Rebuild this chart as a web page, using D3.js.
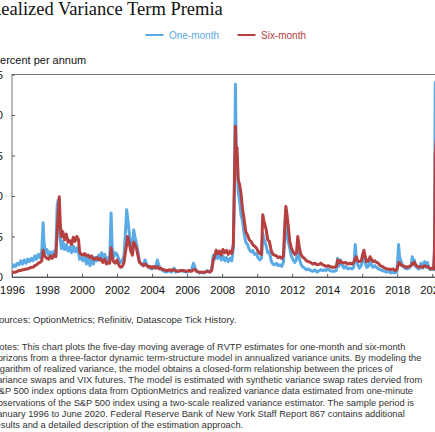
<!DOCTYPE html>
<html>
<head>
<meta charset="utf-8">
<script src="https://cdn.jsdelivr.net/npm/d3@7"></script>
<style>
  html, body { margin: 0; padding: 0; background: #fff; overflow: hidden; }
  svg { display: block; }
</style>
</head>
<body>
<svg id="chart" width="435" height="432"></svg>
<script>
// decimal years
var dates = [
  1996.00, 1996.10, 1996.20, 1996.30, 1996.40, 1996.50, 1996.60, 1996.70, 1996.80, 1996.90,
  1997.00, 1997.10, 1997.20, 1997.30, 1997.40, 1997.50, 1997.60, 1997.70, 1997.78, 1997.82, 1997.90,
  1998.00, 1998.10, 1998.20, 1998.30, 1998.40, 1998.50, 1998.58, 1998.64, 1998.70, 1998.76, 1998.82, 1998.90,
  1999.00, 1999.10, 1999.20, 1999.30, 1999.40, 1999.50, 1999.60, 1999.70, 1999.80, 1999.86, 1999.95,
  2000.05, 2000.15, 2000.25, 2000.35, 2000.45, 2000.55, 2000.65, 2000.75, 2000.85, 2000.95,
  2001.05, 2001.12, 2001.20, 2001.30, 2001.40, 2001.50, 2001.58, 2001.66, 2001.72, 2001.80, 2001.90,
  2002.00, 2002.10, 2002.20, 2002.30, 2002.40, 2002.47, 2002.55, 2002.60, 2002.68, 2002.78, 2002.88, 2002.95,
  2003.02, 2003.10, 2003.20, 2003.28, 2003.40, 2003.50, 2003.60, 2003.70, 2003.80, 2003.90,
  2004.00, 2004.10, 2004.20, 2004.30, 2004.40, 2004.50, 2004.60, 2004.70, 2004.80, 2004.90,
  2005.00, 2005.10, 2005.25, 2005.35, 2005.50, 2005.65, 2005.80, 2005.95,
  2006.10, 2006.25, 2006.36, 2006.45, 2006.55, 2006.70, 2006.85,
  2007.00, 2007.15, 2007.30, 2007.40, 2007.50, 2007.58, 2007.66, 2007.75, 2007.85, 2007.95,
  2008.05, 2008.15, 2008.25, 2008.35, 2008.45, 2008.55, 2008.64, 2008.70, 2008.76, 2008.81, 2008.85, 2008.92,
  2009.00, 2009.08, 2009.16, 2009.25, 2009.35, 2009.45, 2009.55, 2009.65, 2009.75, 2009.85, 2009.95,
  2010.05, 2010.15, 2010.25, 2010.32, 2010.38, 2010.45, 2010.52, 2010.60, 2010.70, 2010.80, 2010.90,
  2011.00, 2011.10, 2011.20, 2011.30, 2011.40, 2011.50, 2011.58, 2011.64, 2011.70, 2011.78, 2011.86, 2011.95,
  2012.05, 2012.15, 2012.25, 2012.32, 2012.40, 2012.48, 2012.58, 2012.70, 2012.82, 2012.92,
  2013.05, 2013.18, 2013.30, 2013.42, 2013.55, 2013.65, 2013.75, 2013.85, 2013.95,
  2014.05, 2014.15, 2014.28, 2014.40, 2014.52, 2014.60, 2014.66, 2014.75, 2014.84, 2014.95,
  2015.05, 2015.18, 2015.30, 2015.42, 2015.52, 2015.60, 2015.66, 2015.74, 2015.84, 2015.95,
  2016.05, 2016.10, 2016.17, 2016.25, 2016.35, 2016.45, 2016.52, 2016.62, 2016.72, 2016.82, 2016.92,
  2017.02, 2017.15, 2017.28, 2017.40, 2017.52, 2017.64, 2017.76, 2017.88, 2017.98,
  2018.08, 2018.13, 2018.20, 2018.30, 2018.42, 2018.55, 2018.68, 2018.80, 2018.86, 2018.93, 2018.98,
  2019.05, 2019.15, 2019.25, 2019.36, 2019.45, 2019.56, 2019.64, 2019.72, 2019.80, 2019.90,
  2020.00, 2020.08, 2020.13, 2020.17, 2020.23, 2020.30, 2020.40, 2020.50
];

var oneMonth = [
  1.1, 1.5, 1.3, 1.7, 1.5, 2.0, 1.6, 2.1, 1.7, 2.2,
  1.9, 2.3, 2.0, 2.6, 2.2, 2.8, 2.4, 3.2, 6.7, 4.5, 3.0,
  3.4, 2.6, 3.1, 2.5, 3.2, 2.7, 8.8, 9.5, 7.0, 4.6, 3.5, 4.4,
  3.4, 4.0, 3.2, 3.7, 3.0, 3.8, 3.1, 3.6, 3.0, 2.2, 2.4,
  2.0, 2.6, 1.6, 2.4, 1.4, 2.1, 1.6, 2.4, 2.0, 2.7,
  2.3, 3.0, 2.2, 2.8, 1.8, 2.4, 2.0, 7.9, 3.6, 2.4, 3.0,
  2.8, 2.2, 1.8, 2.0, 2.6, 5.2, 8.3, 7.4, 5.8, 4.0, 3.2, 5.8,
  5.0, 4.2, 3.0, 1.8, 1.6, 1.4, 2.1, 1.5, 1.3, 1.1,
  1.0, 1.3, 1.1, 2.1, 1.3, 1.0, 0.8, 0.7, 0.6, 0.7,
  0.8, 0.6, 1.1, 0.6, 0.7, 0.8, 0.7, 0.6,
  0.7, 0.8, 1.7, 1.2, 0.7, 0.5, 0.6,
  0.5, 0.8, 0.6, 0.9, 2.7, 2.2, 3.0, 2.3, 2.8, 2.1,
  2.6, 2.0, 2.4, 1.9, 2.3, 2.0, 3.5, 10.0, 23.8, 14.0, 15.1, 10.5,
  9.3, 7.7, 7.0, 5.5, 4.3, 4.0, 3.4, 3.1, 3.3, 2.8, 2.9,
  2.4, 2.1, 2.3, 5.4, 4.7, 4.3, 3.8, 3.0, 3.1, 2.0, 1.6,
  1.5, 1.7, 1.4, 1.5, 1.3, 1.8, 5.0, 6.4, 5.5, 4.3, 3.6, 2.6,
  2.1, 1.8, 2.2, 3.6, 2.4, 1.7, 1.3, 1.1, 0.9, 1.0,
  0.8, 0.7, 0.9, 0.6, 0.8, 0.9, 0.8, 0.9, 0.8,
  1.0, 0.8, 0.7, 0.7, 0.8, 2.3, 1.3, 2.1, 1.5, 1.1,
  1.3, 1.0, 1.1, 1.0, 1.2, 4.0, 2.4, 1.6, 1.1, 1.4,
  2.5, 2.7, 1.8, 1.2, 1.3, 2.1, 1.5, 1.2, 1.4, 1.2, 1.0,
  0.9, 0.8, 0.7, 0.6, 0.7, 0.5, 0.6, 0.5, 0.6,
  4.0, 2.5, 2.1, 1.4, 1.1, 1.0, 1.1, 1.5, 2.5, 1.6, 2.1,
  1.3, 1.1, 1.0, 1.7, 1.1, 1.9, 1.2, 1.8, 1.1, 0.9,
  1.0, 0.9, 4.0, 24.0, 22.0, 15.0, 9.0, 6.0
];

var sixMonth = [
  0.5, 0.6, 0.6, 0.7, 0.8, 0.8, 0.9, 0.9, 1.0, 1.0,
  1.1, 1.2, 1.2, 1.4, 1.5, 1.7, 1.8, 2.0, 3.3, 2.9, 2.5,
  2.3, 2.2, 2.6, 2.3, 2.7, 2.5, 5.5, 8.0, 9.9, 6.5, 5.0, 5.6,
  4.6, 5.3, 4.3, 4.5, 4.0, 4.9, 4.4, 5.0, 4.6, 3.1, 2.8,
  2.7, 2.9, 2.6, 2.7, 2.4, 2.6, 2.2, 2.2, 2.4, 2.1,
  2.3, 2.0, 1.8, 2.2, 1.6, 1.8, 1.7, 3.6, 2.4, 1.9, 1.7,
  2.1, 1.5, 1.2, 1.3, 1.8, 3.0, 4.0, 5.0, 4.4, 3.2, 2.7, 4.3,
  4.0, 3.6, 2.6, 1.8, 1.6, 1.4, 1.6, 1.4, 1.2, 1.3,
  1.1, 1.3, 1.1, 1.3, 1.0, 1.1, 0.9, 0.9, 0.8, 0.8,
  0.9, 0.8, 0.9, 0.8, 0.7, 0.8, 0.8, 0.7,
  0.8, 0.7, 0.9, 0.9, 0.7, 0.6, 0.6,
  0.6, 0.7, 0.6, 0.8, 2.2, 2.6, 3.3, 2.9, 3.2, 2.7,
  3.4, 3.0, 3.3, 2.8, 3.2, 2.9, 4.0, 11.8, 18.6, 14.2, 16.0, 12.0,
  11.4, 10.3, 8.5, 7.2, 5.6, 5.2, 4.6, 4.4, 4.0, 3.8, 3.6,
  3.2, 2.9, 2.8, 7.7, 7.0, 6.4, 5.8, 4.6, 4.4, 3.3, 2.8,
  2.7, 2.6, 2.4, 2.5, 2.3, 2.6, 6.5, 8.7, 7.8, 6.2, 4.4, 3.6,
  3.1, 2.8, 3.0, 5.0, 3.8, 2.9, 2.5, 2.3, 2.0, 1.9,
  1.8, 1.6, 1.7, 1.5, 1.6, 1.7, 1.5, 1.4, 1.3,
  1.4, 1.3, 1.2, 1.2, 1.3, 2.1, 1.7, 2.0, 1.8, 1.7,
  1.8, 1.6, 1.7, 1.6, 1.8, 2.3, 2.5, 2.0, 1.9, 2.0,
  3.0, 3.3, 2.5, 1.9, 2.0, 2.5, 2.2, 1.9, 2.0, 1.8, 1.7,
  1.4, 1.3, 1.1, 1.0, 1.0, 0.9, 1.0, 0.8, 0.9,
  1.7, 1.8, 1.5, 1.4, 1.3, 1.2, 1.3, 1.4, 1.7, 1.6, 1.8,
  1.5, 1.3, 1.2, 1.3, 1.2, 1.4, 1.3, 1.3, 1.2, 1.0,
  1.1, 1.0, 3.0, 15.0, 17.0, 14.0, 9.0, 7.0
];

var xTickYears = [1996, 1998, 2000, 2002, 2004, 2006, 2008, 2010, 2012, 2014, 2016, 2018, 2020];
var yTickValues = [0, 5, 10, 15, 20, 25];
var seriesNames = ["One-month", "Six-month"];
var seriesColors = ["#5aaae6", "#b5403f"];

var notesLines = [
  "Notes: This chart plots the five-day moving average of RVTP estimates for one-month and six-month",
  "horizons from a three-factor dynamic term-structure model in annualized variance units. By modeling the",
  "logarithm of realized variance, the model obtains a closed-form relationship between the prices of",
  "variance swaps and VIX futures. The model is estimated with synthetic variance swap rates dervied from",
  "S&P 500 index options data from OptionMetrics and realized variance data estimated from one-minute",
  "observations of the S&P 500 index using a two-scale realized variance estimator. The sample period is",
  "January 1996 to June 2020. Federal Reserve Bank of New York Staff Report 867 contains additional",
  "results and a detailed description of the estimation approach."
];

var svg = d3.select("#chart");
var sans = "'Liberation Sans', Arial, sans-serif";

var plot = { left: 12, top: 74.5, bottom: 277, right: 441 };

var x = d3.scaleLinear().domain([1996, 2020.5]).range([plot.left, plot.right]);
var y = d3.scaleLinear().domain([0, 25]).range([plot.bottom, plot.top]);

// title, cut at the left edge like the reference
svg.append("text")
    .attr("x", -11)
    .attr("y", 15)
    .style("font-family", "'Liberation Serif', 'Times New Roman', serif")
    .style("font-size", "18.5px")
    .attr("fill", "#111")
    .text("Realized Variance Term Premia");

// legend
var legend = svg.append("g").attr("class", "legend");
var legendX = [145.5, 237.5];
seriesNames.forEach(function(name, i) {
    legend.append("line")
        .attr("x1", legendX[i]).attr("x2", legendX[i] + 18)
        .attr("y1", 35).attr("y2", 35)
        .attr("stroke", seriesColors[i])
        .attr("stroke-width", 2);
    legend.append("text")
        .attr("x", legendX[i] + 23.5)
        .attr("y", 38.5)
        .style("font-family", sans)
        .style("font-size", "10px")
        .attr("fill", seriesColors[i])
        .text(name);
});

svg.append("text")
    .attr("x", -7.3)
    .attr("y", 64)
    .style("font-family", sans)
    .style("font-size", "11px")
    .attr("fill", "#111")
    .text("Percent per annum");

// frame
svg.append("rect")
    .attr("x", plot.left)
    .attr("y", plot.top)
    .attr("width", plot.right - plot.left)
    .attr("height", plot.bottom - plot.top)
    .attr("fill", "none")
    .attr("stroke", "#777")
    .attr("stroke-width", 1);

// axes
var xAxis = d3.axisBottom(x)
    .tickValues(xTickYears)
    .tickFormat(d3.format("d"))
    .tickSizeInner(-3)
    .tickSizeOuter(0)
    .tickPadding(9);

var gx = svg.append("g")
    .attr("transform", "translate(0," + plot.bottom + ")")
    .call(xAxis);
gx.select(".domain").attr("stroke", "#555");
gx.selectAll(".tick line").attr("stroke", "#555");
gx.selectAll(".tick text")
    .style("font-family", sans)
    .style("font-size", "11.2px")
    .attr("fill", "#111");

var yAxis = d3.axisLeft(y)
    .tickValues(yTickValues)
    .tickSizeInner(-3)
    .tickSizeOuter(0)
    .tickPadding(9);

var gy = svg.append("g")
    .attr("transform", "translate(" + plot.left + ",0)")
    .call(yAxis);
gy.select(".domain").remove();
gy.selectAll(".tick line").attr("stroke", "#555");
gy.selectAll(".tick text")
    .style("font-family", sans)
    .style("font-size", "11.2px")
    .attr("fill", "#111");

// lines
var rows = dates.map(function(d, i) {
    return { t: d, one: oneMonth[i], six: sixMonth[i] };
});

svg.append("clipPath").attr("id", "plotclip")
    .append("rect")
    .attr("x", plot.left).attr("y", plot.top - 2)
    .attr("width", plot.right - plot.left).attr("height", plot.bottom - plot.top + 2);

var lineOne = d3.line().x(function(d) { return x(d.t); }).y(function(d) { return y(d.one); });
var lineSix = d3.line().x(function(d) { return x(d.t); }).y(function(d) { return y(d.six); });

var lines = svg.append("g").attr("clip-path", "url(#plotclip)");
lines.append("path")
    .datum(rows)
    .attr("d", lineOne)
    .attr("fill", "none")
    .attr("stroke", seriesColors[0])
    .attr("stroke-width", 3)
    .attr("stroke-linejoin", "round");
lines.append("path")
    .datum(rows)
    .attr("d", lineSix)
    .attr("fill", "none")
    .attr("stroke", seriesColors[1])
    .attr("stroke-width", 3)
    .attr("stroke-linejoin", "round");

// sources and notes
var foot = svg.append("g")
    .style("font-family", sans)
    .attr("fill", "#333");

foot.append("text")
    .attr("x", -7.5)
    .attr("y", 323)
    .style("font-size", "9.6px")
    .text("Sources: OptionMetrics; Refinitiv, Datascope Tick History.");

foot.selectAll("text.note")
    .data(notesLines)
    .enter().append("text")
    .attr("class", "note")
    .attr("x", -7.5)
    .attr("y", function(d, i) { return 349.5 + i * 11.2; })
    .style("font-size", "9.3px")
    .text(function(d) { return d; });
</script>
</body>
</html>
